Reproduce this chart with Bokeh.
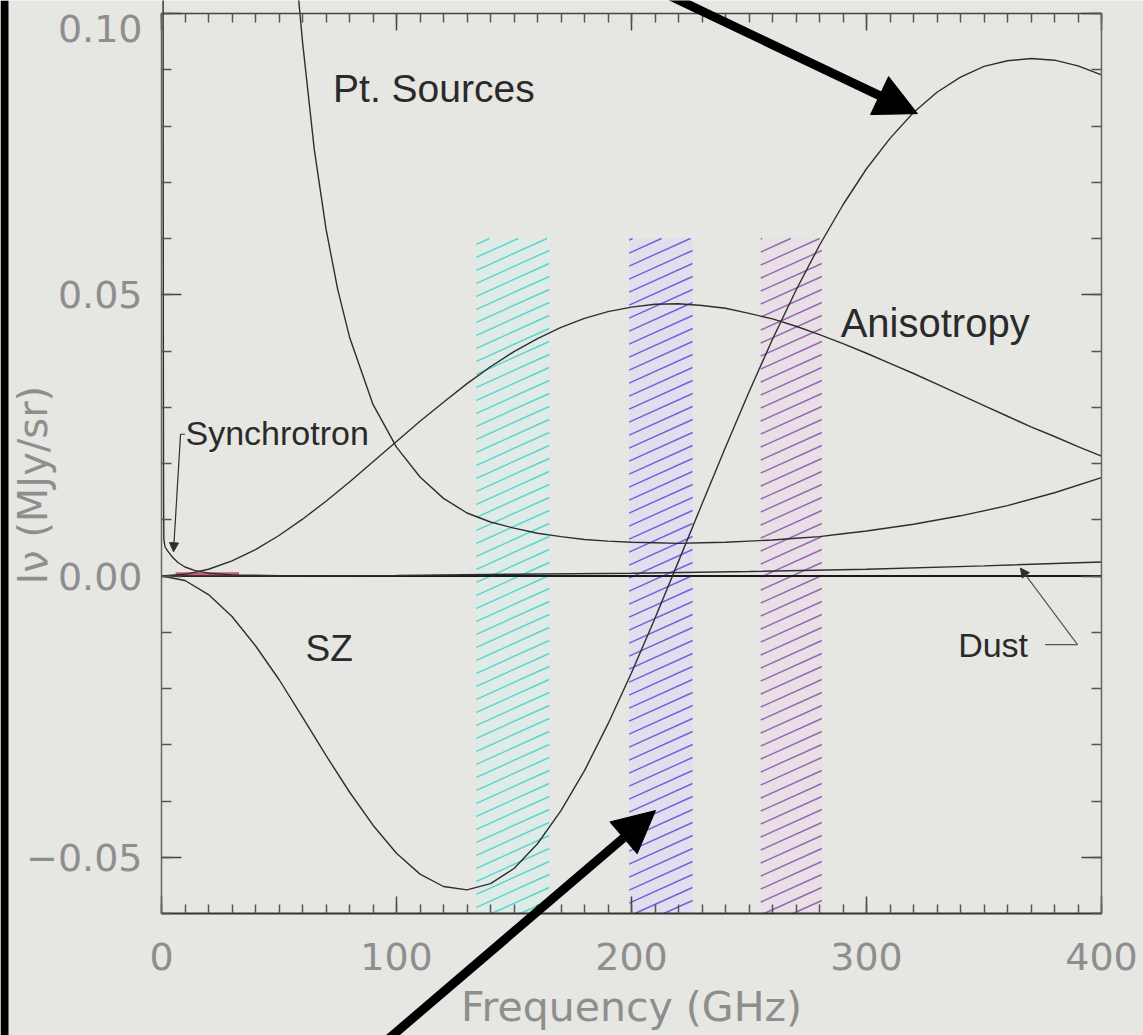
import numpy as np
from bokeh.plotting import figure
from bokeh.models import (LinearAxis, FixedTicker, Range1d, Label, Arrow, NormalHead)
from bokeh.embed import file_html
from bokeh.resources import INLINE

# ---------------- data ----------------
freq = list(range(0, 401, 10))
anisotropy = [0.0, 0.0003, 0.0012, 0.0027, 0.0047, 0.0072, 0.0101, 0.0133, 0.0167,
              0.0203, 0.0239, 0.0275, 0.0309, 0.0342, 0.0372, 0.0399, 0.0422,
              0.0442, 0.0458, 0.0470, 0.0478, 0.0483, 0.0484, 0.0481, 0.0476,
              0.0467, 0.0457, 0.0444, 0.0429, 0.0413, 0.0396, 0.0378, 0.0360,
              0.0341, 0.0322, 0.0303, 0.0284, 0.0265, 0.0248, 0.0230, 0.0213]
sz = [0.0, -0.0008, -0.0033, -0.0072, -0.0124, -0.0184, -0.0251, -0.0319, -0.0384,
      -0.0443, -0.0493, -0.0530, -0.0552, -0.0558, -0.0547, -0.0520, -0.0476,
      -0.0417, -0.0346, -0.0263, -0.0172, -0.0075, 0.0026, 0.0128, 0.0229,
      0.0327, 0.0421, 0.0508, 0.0588, 0.0660, 0.0724, 0.0778, 0.0824, 0.0860,
      0.0887, 0.0906, 0.0916, 0.0920, 0.0917, 0.0907, 0.0891]

pts_freq = [55, 60, 65, 70, 75, 80, 90, 100, 110, 120, 130, 140, 150, 160, 170,
            180, 190, 200, 210, 220, 230, 240, 250, 260, 270, 280, 290, 300,
            320, 340, 360, 380, 400]
pts = [0.118, 0.095, 0.0759, 0.0617, 0.0509, 0.0425, 0.0305, 0.0229, 0.0176,
       0.0138, 0.0112, 0.0096, 0.0085, 0.0076, 0.0070, 0.0065, 0.0062, 0.0060,
       0.0059, 0.0058, 0.0059, 0.0060, 0.0062, 0.0064, 0.0067, 0.0070, 0.0075,
       0.0080, 0.0092, 0.0107, 0.0125, 0.0148, 0.0175]

syn_freq = [0.6, 0.8, 0.9, 1.0, 1.5, 2.5, 4, 5, 7, 10, 14, 20, 30, 50]
syn = [0.15, 0.035, 0.012, 0.0065, 0.0052, 0.0045, 0.0037, 0.0032, 0.0024,
       0.0016, 0.0010, 0.0005, 0.0002, 0.00005]

dust_freq = [0, 50, 100, 150, 200, 250, 300, 350, 400]
dust = [0.0, 0.00002, 0.0001, 0.0003, 0.0005, 0.0008, 0.0012, 0.0018, 0.0025]

ff_freq = [6, 33]
ff = [0.0004, 0.0004]

band_lo = [134, 199, 255]
band_hi = [165, 226, 281]
band_top = 0.06
band_line_colors = ["#5ad4c8", "#6f63dc", "#9467b0"]
band_fill_colors = ["#dcece9", "#e1dcf0", "#e8dde9"]

x_ticks = [0, 100, 200, 300, 400]
y_ticks = [-0.05, 0.0, 0.05, 0.10]
y_tick_labels = {-0.05: "\u22120.05", 0.0: "0.00", 0.05: "0.05", 0.10: ""}

XMIN, XMAX, YMIN, YMAX = 0, 400, -0.06, 0.10

# ---------------- geometry of the page ----------------
W, H = 1143, 1035
FL, FR, FT, FB = 161, 1101, 13, 913          # where the axes box sits (px)
gx = (FR - FL) / (XMAX - XMIN)                 # px per GHz
gy = (FB - FT) / (YMAX - YMIN)                 # px per unit
def dx(px): return XMIN + (px - FL) / gx
def dy(py): return YMAX - (py - FT) / gy

BG = "#e6e6e2"
p = figure(width=W, height=H, x_range=Range1d(dx(0), dx(W)), y_range=Range1d(dy(H), dy(0)),
           output_backend="svg", toolbar_location=None,
           min_border=0, min_border_left=0, min_border_right=0, min_border_top=0,
           min_border_bottom=0, background_fill_color=BG, border_fill_color=BG)
p.xgrid.visible = False
p.ygrid.visible = False
p.outline_line_color = None

TICK_FONT = "DejaVu Sans"
TICK_COLOR = "#8e8e8e"

minor_x = list(range(0, 401, 10))
minor_y = [round(v, 2) for v in np.arange(-0.06, 0.1001, 0.01)]

def style_axis(ax, tin, mtin, col, lw):
    ax.major_tick_in = tin; ax.major_tick_out = 0
    ax.minor_tick_in = mtin; ax.minor_tick_out = 0
    ax.axis_line_color = col; ax.axis_line_width = lw
    ax.major_tick_line_color = "#444444"; ax.minor_tick_line_color = "#555555"
    ax.major_tick_line_width = 1.5; ax.minor_tick_line_width = 1.5
    ax.major_label_text_font = TICK_FONT
    ax.major_label_text_font_size = "38px"
    ax.major_label_text_color = TICK_COLOR

xa = p.xaxis[0]
xa.ticker = FixedTicker(ticks=x_ticks, minor_ticks=minor_x)
xa.fixed_location = YMIN
xa.bounds = (XMIN, XMAX)
style_axis(xa, 17, 9, "#333333", 2)
xa.major_label_standoff = 29

ya = p.yaxis[0]
ya.ticker = FixedTicker(ticks=y_ticks, minor_ticks=minor_y)
ya.fixed_location = XMIN
ya.bounds = (YMIN, YMAX)
style_axis(ya, 20, 10, "#666666", 1.5)
ya.major_label_standoff = 19
ya.major_label_overrides = y_tick_labels

top_ax = LinearAxis(ticker=FixedTicker(ticks=x_ticks, minor_ticks=minor_x),
                    fixed_location=YMAX, bounds=(XMIN, XMAX))
style_axis(top_ax, 17, 9, "#444444", 1.5)
top_ax.major_label_overrides = {t: "" for t in x_ticks}
p.add_layout(top_ax, "above")

right_ax = LinearAxis(ticker=FixedTicker(ticks=y_ticks, minor_ticks=minor_y),
                      fixed_location=XMAX, bounds=(YMIN, YMAX))
style_axis(right_ax, 20, 10, "#666666", 1.5)
right_ax.major_label_overrides = {t: "" for t in y_ticks}
p.add_layout(right_ax, "right")

# black strip at the left edge of the page
p.quad(left=dx(0), right=dx(8), bottom=dy(H), top=dy(0), fill_color="black", line_color=None)

# ---------------- hatched bands ----------------
p.quad(left=band_lo, right=band_hi, bottom=YMIN, top=band_top,
       fill_color=band_fill_colors, fill_alpha=0.8, line_color=None)

slope = 0.45 * gx / gy          # data-units per GHz for a 0.45 px/px rise
step = 13 / gy                  # vertical spacing of hatch lines
for lo, hi, col in zip(band_lo, band_hi, band_line_colors):
    xs, ys = [], []
    w = hi - lo
    y0 = YMIN - slope * w
    while y0 < band_top:
        xa0, ya0 = lo, y0
        if ya0 < YMIN:
            xa0, ya0 = lo + (YMIN - y0) / slope, YMIN
        xb0, yb0 = hi, y0 + slope * w
        if yb0 > band_top:
            xb0, yb0 = lo + (band_top - y0) / slope, band_top
        if xa0 < xb0:
            xs.append([xa0, xb0]); ys.append([ya0, yb0])
        y0 += step
    p.multi_line(xs, ys, line_color=col, line_width=1.4)

# ---------------- curves ----------------
CURVE = "#2e2e2e"
p.line([XMIN, XMAX], [0, 0], line_color="#1a1a1a", line_width=2.2)
p.line(dust_freq, dust, line_color=CURVE, line_width=1.5)
p.line(ff_freq, ff, line_color="#c85a6e", line_width=3)
p.line(freq, anisotropy, line_color=CURVE, line_width=1.4)
p.line(freq, sz, line_color=CURVE, line_width=1.4)
p.line(pts_freq, pts, line_color=CURVE, line_width=1.4)
p.line(syn_freq, syn, line_color=CURVE, line_width=1.4)

# ---------------- labels ----------------
LFONT = "Liberation Sans"
for txt, x, y, size in [("Pt. Sources", 73.0, 0.0867, "39px"),
                        ("Anisotropy", 289.0, 0.0450, "40px"),
                        ("SZ", 61.3, -0.0128, "37px"),
                        ("Synchrotron", 10.2, 0.0254, "34px"),
                        ("Dust", 339.0, -0.0122, "34px")]:
    p.add_layout(Label(x=x, y=y, text=txt, text_font=LFONT, text_font_size=size,
                       text_color="#2a2a2a", text_baseline="middle", text_align="left"))

# leader lines
p.line([8.1, 10.0], [0.0252, 0.0252], line_color=CURVE, line_width=1.2)
p.add_layout(Arrow(end=NormalHead(size=9, fill_color=CURVE, line_color=CURVE),
                   x_start=8.1, y_start=0.0252, x_end=5.1, y_end=0.0043,
                   line_color=CURVE, line_width=1.2))
p.line([376.0, 389.8], [-0.0122, -0.0122], line_color="#555555", line_width=1.2)
p.add_layout(Arrow(end=NormalHead(size=9, fill_color=CURVE, line_color=CURVE),
                   x_start=389.8, y_start=-0.0122, x_end=365.5, y_end=0.0014,
                   line_color="#555555", line_width=1.2))

# big black arrows
p.add_layout(Arrow(end=NormalHead(size=42, fill_color="black", line_color="black"),
                   x_start=211.5, y_start=0.1041, x_end=321.7, y_end=0.0822,
                   line_color="black", line_width=9))
p.add_layout(Arrow(end=NormalHead(size=42, fill_color="black", line_color="black"),
                   x_start=93.2, y_start=-0.0835, x_end=210.2, y_end=-0.0417,
                   line_color="black", line_width=9))

# axis titles and the top tick label
p.add_layout(Label(x=(XMIN + XMAX) / 2, y=dy(1006), text="Frequency (GHz)", text_font=TICK_FONT,
                   text_font_size="41px", text_color=TICK_COLOR,
                   text_align="center", text_baseline="middle"))
p.add_layout(Label(x=dx(32), y=dy(472), text="I\u03bd   (MJy/sr)",
                   angle=np.pi / 2, text_font=TICK_FONT, text_font_size="40px",
                   text_color=TICK_COLOR, text_align="center", text_baseline="middle"))
p.add_layout(Label(x=dx(142), y=dy(28), text="0.10", text_font=TICK_FONT,
                   text_font_size="38px", text_color=TICK_COLOR,
                   text_align="right", text_baseline="middle"))

open("out.html", "w").write(file_html(p, INLINE))
